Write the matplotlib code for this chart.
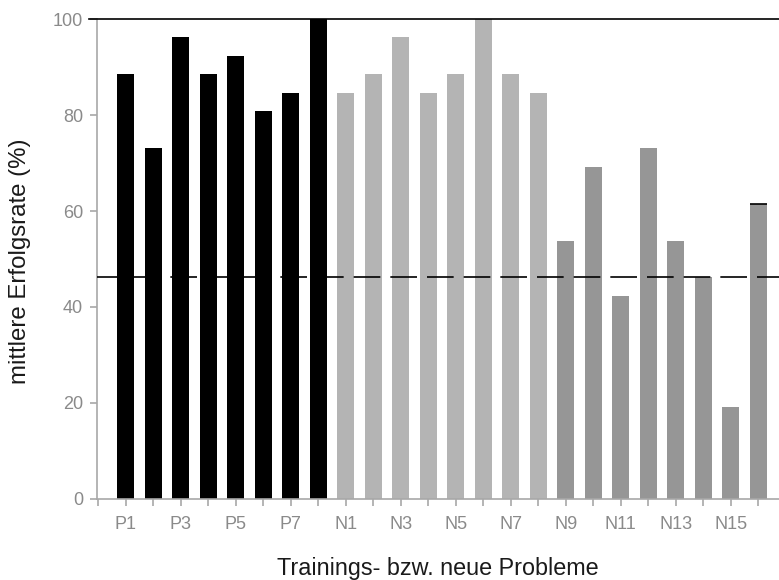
import matplotlib
matplotlib.use("Agg")
import matplotlib.pyplot as plt
import numpy as np

# --- data ---
train_labels = ["P1", "P2", "P3", "P4", "P5", "P6", "P7", "P8"]
train_values = [88.5, 73.1, 96.2, 88.5, 92.3, 80.8, 84.6, 100.0]

new_a_labels = ["N1", "N2", "N3", "N4", "N5", "N6", "N7", "N8"]
new_a_values = [84.6, 88.5, 96.2, 84.6, 88.5, 100.0, 88.5, 84.6]

new_b_labels = ["N9", "N10", "N11", "N12", "N13", "N14", "N15", "N16"]
new_b_values = [53.8, 69.2, 42.3, 73.1, 53.8, 46.2, 19.2, 61.5]

chance_level = 46.2
y_ticks = [0, 20, 40, 60, 80, 100]

plt.rcParams["font.family"] = ["Liberation Sans", "DejaVu Sans"]

fig = plt.figure(figsize=(7.79, 5.80), dpi=100)
ax = fig.add_axes([0.1245, 0.1397, 0.8755, 0.8275])

labels = train_labels + new_a_labels + new_b_labels
colors = (["#000000"] * len(train_values) + ["#b4b4b4"] * len(new_a_values)
          + ["#969696"] * len(new_b_values))
values = train_values + new_a_values + new_b_values
x = np.arange(len(values))
bar_w = 0.62

ax.bar(x, values, width=bar_w, color=colors, zorder=2)

# small black cap seen on the last bar
ax.hlines(values[-1], x[-1] - bar_w / 2, x[-1] + bar_w / 2,
          color="black", lw=1.2, zorder=3)

# reference lines
ax.axhline(chance_level, color="black", lw=1.2, dashes=(16, 6), zorder=3)
ax.plot([-0.012, 1.0], [100, 100], color="black", lw=1.2,
        transform=ax.get_yaxis_transform(), clip_on=False, zorder=4)

ax.set_xlim(-1.05, 23.75)
ax.set_ylim(0, 100)

# one extra unlabeled tick sits at the axis corner
ax.set_xticks(np.concatenate(([-1], x)))
ax.set_xticklabels([""] + [l if i % 2 == 0 else "" for i, l in enumerate(labels)])
ax.set_yticks(y_ticks)

for s in ["top", "right"]:
    ax.spines[s].set_visible(False)
for s in ["left", "bottom"]:
    ax.spines[s].set_color("#a8a8a8")
    ax.spines[s].set_linewidth(1.2)

ax.tick_params(axis="both", direction="out", length=5, width=1.2,
               color="#a8a8a8", labelcolor="#8a8a8a", labelsize=13)
ax.tick_params(axis="x", pad=7)
ax.tick_params(axis="y", pad=5)

fig.text(0.026, 0.55, "mittlere Erfolgsrate (%)", rotation=90,
         ha="center", va="center", fontsize=17.3, color="#1a1a1a")
fig.text(0.562, 0.020, "Trainings- bzw. neue Probleme",
         ha="center", va="center", fontsize=16.8, color="#1a1a1a")

fig.savefig("out.png", dpi=100, facecolor="white")
